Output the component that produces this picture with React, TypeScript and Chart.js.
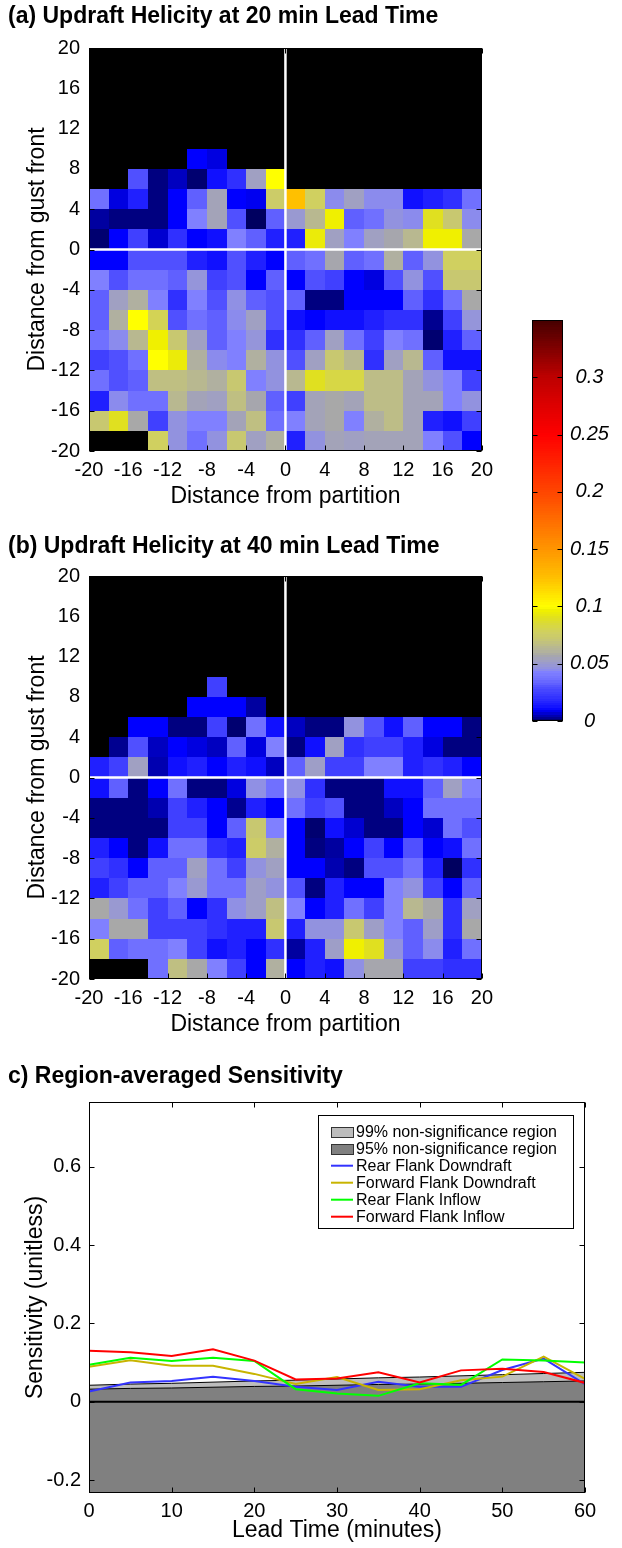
import React, { useEffect, useRef } from 'react';
import { Chart, registerables } from 'chart.js';

Chart.register(...registerables);

const FONT = "'Liberation Sans', Arial, Helvetica, sans-serif";
const N = null;

// ---------- heatmap data ----------
const xCenters = [-19, -17, -15, -13, -11, -9, -7, -5, -3, -1, 1, 3, 5, 7, 9, 11, 13, 15, 17, 19];
const yCenters = [19, 17, 15, 13, 11, 9, 7, 5, 3, 1, -1, -3, -5, -7, -9, -11, -13, -15, -17, -19];
const distanceTicks = [-20, -16, -12, -8, -4, 0, 4, 8, 12, 16, 20];

const uhLead20: (number | null)[][] = [
  [N, N, N, N, N, N, N, N, N, N, N, N, N, N, N, N, N, N, N, N],
  [N, N, N, N, N, N, N, N, N, N, N, N, N, N, N, N, N, N, N, N],
  [N, N, N, N, N, N, N, N, N, N, N, N, N, N, N, N, N, N, N, N],
  [N, N, N, N, N, N, N, N, N, N, N, N, N, N, N, N, N, N, N, N],
  [N, N, N, N, N, N, N, N, N, N, N, N, N, N, N, N, N, N, N, N],
  [N, N, N, N, N, 0.010, 0.008, N, N, N, N, N, N, N, N, N, N, N, N, N],
  [N, N, 0.030, 0.002, 0.006, 0.001, 0.012, 0.020, 0.053, 0.100, N, N, N, N, N, N, N, N, N, N],
  [0.037, 0.008, 0.016, 0.002, 0.010, 0.033, 0.055, 0.010, 0.009, 0.075, 0.125, 0.078, 0.045, 0.053, 0.045, 0.045, 0.012, 0.016, 0.020, 0.037],
  [0.004, 0.002, 0.002, 0.002, 0.010, 0.043, 0.055, 0.030, 0.000, 0.033, 0.050, 0.065, 0.097, 0.033, 0.037, 0.047, 0.045, 0.090, 0.072, 0.045],
  [0.001, 0.010, 0.025, 0.007, 0.020, 0.010, 0.012, 0.043, 0.033, 0.016, 0.016, 0.095, 0.053, 0.043, 0.053, 0.057, 0.065, 0.097, 0.097, 0.058],
  [0.010, 0.010, 0.030, 0.030, 0.030, 0.016, 0.012, 0.030, 0.016, 0.010, 0.033, 0.037, 0.057, 0.033, 0.037, 0.060, 0.033, 0.047, 0.078, 0.078],
  [0.043, 0.030, 0.037, 0.037, 0.033, 0.048, 0.025, 0.030, 0.010, 0.033, 0.010, 0.030, 0.025, 0.010, 0.008, 0.030, 0.047, 0.030, 0.072, 0.072],
  [0.033, 0.053, 0.060, 0.043, 0.020, 0.043, 0.030, 0.046, 0.033, 0.030, 0.033, 0.002, 0.002, 0.010, 0.010, 0.010, 0.033, 0.020, 0.037, 0.058],
  [0.033, 0.060, 0.100, 0.080, 0.030, 0.037, 0.033, 0.045, 0.053, 0.030, 0.012, 0.010, 0.012, 0.012, 0.016, 0.020, 0.020, 0.003, 0.025, 0.048],
  [0.037, 0.045, 0.065, 0.097, 0.072, 0.053, 0.033, 0.043, 0.048, 0.020, 0.020, 0.033, 0.053, 0.037, 0.025, 0.043, 0.037, 0.001, 0.016, 0.033],
  [0.025, 0.030, 0.037, 0.100, 0.095, 0.060, 0.045, 0.043, 0.060, 0.047, 0.030, 0.053, 0.072, 0.065, 0.020, 0.053, 0.065, 0.033, 0.012, 0.012],
  [0.037, 0.030, 0.033, 0.068, 0.068, 0.065, 0.060, 0.072, 0.043, 0.047, 0.065, 0.090, 0.083, 0.083, 0.067, 0.067, 0.055, 0.047, 0.043, 0.025],
  [0.016, 0.045, 0.037, 0.037, 0.065, 0.055, 0.053, 0.068, 0.057, 0.033, 0.025, 0.055, 0.058, 0.055, 0.067, 0.067, 0.055, 0.055, 0.043, 0.047],
  [0.072, 0.090, 0.058, 0.025, 0.047, 0.043, 0.043, 0.055, 0.068, 0.037, 0.043, 0.055, 0.058, 0.043, 0.060, 0.067, 0.055, 0.016, 0.012, 0.025],
  [N, N, N, 0.078, 0.047, 0.037, 0.047, 0.072, 0.053, 0.060, 0.016, 0.047, 0.055, 0.053, 0.055, 0.055, 0.055, 0.043, 0.030, 0.010],
];

const uhLead40: (number | null)[][] = [
  [N, N, N, N, N, N, N, N, N, N, N, N, N, N, N, N, N, N, N, N],
  [N, N, N, N, N, N, N, N, N, N, N, N, N, N, N, N, N, N, N, N],
  [N, N, N, N, N, N, N, N, N, N, N, N, N, N, N, N, N, N, N, N],
  [N, N, N, N, N, N, N, N, N, N, N, N, N, N, N, N, N, N, N, N],
  [N, N, N, N, N, N, N, N, N, N, N, N, N, N, N, N, N, N, N, N],
  [N, N, N, N, N, N, 0.025, N, N, N, N, N, N, N, N, N, N, N, N, N],
  [N, N, N, N, N, 0.010, 0.010, 0.010, 0.004, N, N, N, N, N, N, N, N, N, N, N],
  [N, N, 0.010, 0.010, 0.002, 0.002, 0.025, 0.001, 0.037, 0.012, 0.006, 0.002, 0.002, 0.047, 0.030, 0.012, 0.033, 0.010, 0.010, 0.002],
  [N, 0.003, 0.030, 0.006, 0.010, 0.008, 0.006, 0.033, 0.008, 0.043, 0.002, 0.012, 0.053, 0.020, 0.025, 0.025, 0.016, 0.008, 0.002, 0.002],
  [0.016, 0.025, 0.053, 0.005, 0.012, 0.016, 0.010, 0.016, 0.012, 0.006, 0.033, 0.052, 0.025, 0.025, 0.043, 0.043, 0.016, 0.020, 0.016, 0.010],
  [0.012, 0.033, 0.002, 0.010, 0.037, 0.002, 0.002, 0.008, 0.046, 0.037, 0.046, 0.020, 0.002, 0.002, 0.002, 0.012, 0.012, 0.033, 0.053, 0.043],
  [0.002, 0.002, 0.002, 0.005, 0.025, 0.016, 0.010, 0.003, 0.016, 0.010, 0.037, 0.025, 0.030, 0.002, 0.002, 0.006, 0.010, 0.037, 0.037, 0.037],
  [0.002, 0.002, 0.002, 0.002, 0.025, 0.025, 0.010, 0.033, 0.072, 0.043, 0.010, 0.001, 0.012, 0.007, 0.002, 0.002, 0.010, 0.007, 0.037, 0.030],
  [0.016, 0.010, 0.002, 0.012, 0.037, 0.037, 0.020, 0.016, 0.075, 0.060, 0.010, 0.002, 0.004, 0.010, 0.025, 0.010, 0.030, 0.010, 0.012, 0.037],
  [0.025, 0.020, 0.010, 0.033, 0.033, 0.053, 0.037, 0.025, 0.047, 0.053, 0.010, 0.010, 0.005, 0.002, 0.030, 0.030, 0.037, 0.016, 0.000, 0.020],
  [0.016, 0.025, 0.033, 0.033, 0.043, 0.050, 0.037, 0.037, 0.052, 0.047, 0.030, 0.002, 0.016, 0.010, 0.010, 0.043, 0.047, 0.025, 0.010, 0.033],
  [0.058, 0.050, 0.037, 0.025, 0.033, 0.010, 0.020, 0.046, 0.052, 0.068, 0.043, 0.010, 0.016, 0.037, 0.025, 0.043, 0.065, 0.058, 0.020, 0.053],
  [0.043, 0.058, 0.058, 0.025, 0.025, 0.025, 0.020, 0.016, 0.016, 0.072, 0.016, 0.047, 0.047, 0.072, 0.052, 0.043, 0.033, 0.052, 0.020, 0.058],
  [0.078, 0.033, 0.037, 0.037, 0.043, 0.025, 0.012, 0.016, 0.010, 0.020, 0.004, 0.016, 0.052, 0.097, 0.090, 0.047, 0.033, 0.045, 0.016, 0.037],
  [N, N, N, 0.037, 0.068, 0.058, 0.043, 0.025, 0.010, 0.060, 0.010, 0.016, 0.012, 0.046, 0.057, 0.057, 0.025, 0.025, 0.020, 0.020],
];

const colorbarTicks = [0, 0.05, 0.1, 0.15, 0.2, 0.25, 0.3];

// ---------- panel (c) data ----------
const leadTimes = [0, 5, 10, 15, 20, 25, 30, 35, 40, 45, 50, 55, 60];
const leadTicks = [0, 10, 20, 30, 40, 50, 60];
const sensTicks = [-0.2, 0, 0.2, 0.4, 0.6];
const sig99 = [0.042, 0.045, 0.047, 0.050, 0.053, 0.055, 0.058, 0.061, 0.063, 0.066, 0.069, 0.072, 0.075];
const sig95 = [0.032, 0.034, 0.035, 0.037, 0.039, 0.040, 0.042, 0.044, 0.045, 0.047, 0.049, 0.051, 0.053];
const rearFlankDowndraft = [0.026, 0.049, 0.053, 0.064, 0.053, 0.038, 0.030, 0.051, 0.038, 0.038, 0.081, 0.110, 0.045];
const forwardFlankDowndraft = [0.089, 0.106, 0.092, 0.092, 0.071, 0.045, 0.063, 0.030, 0.032, 0.055, 0.064, 0.115, 0.058];
const rearFlankInflow = [0.094, 0.112, 0.104, 0.112, 0.104, 0.032, 0.021, 0.015, 0.047, 0.043, 0.108, 0.105, 0.100];
const forwardFlankInflow = [0.130, 0.126, 0.117, 0.134, 0.105, 0.057, 0.059, 0.075, 0.049, 0.080, 0.084, 0.076, 0.048];

// ---------- colormap (style) ----------
const CMAP: [number, number, number, number][] = [
  [0, 0, 0, 96], [0.002, 0, 0, 128], [0.008, 0, 0, 224], [0.01, 0, 0, 255],
  [0.012, 16, 16, 255], [0.016, 32, 32, 255], [0.02, 48, 48, 255], [0.025, 64, 64, 255],
  [0.03, 80, 80, 255], [0.033, 96, 96, 255], [0.037, 112, 112, 255], [0.043, 128, 128, 255],
  [0.046, 144, 144, 228], [0.053, 160, 160, 194], [0.058, 168, 168, 168], [0.06, 176, 176, 160],
  [0.065, 184, 184, 144], [0.072, 200, 200, 112], [0.078, 208, 208, 96], [0.09, 224, 224, 32],
  [0.097, 240, 240, 0], [0.1, 255, 255, 0], [0.125, 255, 192, 0], [0.15, 255, 150, 0],
  [0.2, 255, 70, 0], [0.25, 255, 0, 0], [0.3, 190, 0, 0], [0.35, 70, 0, 0],
];

function colorFor(v: number): string {
  if (v <= CMAP[0][0]) return `rgb(${CMAP[0][1]},${CMAP[0][2]},${CMAP[0][3]})`;
  for (let i = 0; i < CMAP.length - 1; i++) {
    const a = CMAP[i], b = CMAP[i + 1];
    if (v >= a[0] && v <= b[0]) {
      const t = (v - a[0]) / (b[0] - a[0]);
      const r = Math.round(a[1] + t * (b[1] - a[1]));
      const g = Math.round(a[2] + t * (b[2] - a[2]));
      const bl = Math.round(a[3] + t * (b[3] - a[3]));
      return `rgb(${r},${g},${bl})`;
    }
  }
  const l = CMAP[CMAP.length - 1];
  return `rgb(${l[1]},${l[2]},${l[3]})`;
}

// ---------- plugins ----------
const heatmapPlugin = {
  id: 'heatmapCells',
  beforeDatasetsDraw(chart: any) {
    const { ctx, chartArea: a, scales } = chart;
    const xs = scales.x, ys = scales.y;
    ctx.save();
    ctx.fillStyle = '#000';
    ctx.fillRect(a.left, a.top, a.right - a.left, a.bottom - a.top);
    const cells = chart.data.datasets[0].data;
    for (const cell of cells) {
      const x0 = Math.round(xs.getPixelForValue(cell.x - 1));
      const x1 = Math.round(xs.getPixelForValue(cell.x + 1));
      const y0 = Math.round(ys.getPixelForValue(cell.y + 1));
      const y1 = Math.round(ys.getPixelForValue(cell.y - 1));
      ctx.fillStyle = colorFor(cell.v);
      ctx.fillRect(x0, y0, x1 - x0, y1 - y0);
    }
    const zx = xs.getPixelForValue(0), zy = ys.getPixelForValue(0);
    ctx.strokeStyle = '#fff';
    ctx.lineWidth = 2.5;
    ctx.beginPath();
    ctx.moveTo(zx, a.top); ctx.lineTo(zx, a.bottom);
    ctx.moveTo(a.left, zy); ctx.lineTo(a.right, zy);
    ctx.stroke();
    ctx.restore();
  },
};

const framePlugin = {
  id: 'axesFrame',
  afterDatasetsDraw(chart: any) {
    const { ctx, chartArea: a, scales } = chart;
    ctx.save();
    ctx.strokeStyle = '#000';
    ctx.lineWidth = 1;
    const L = Math.round(a.left) + 0.5, R = Math.round(a.right) - 0.5;
    const T = Math.round(a.top) + 0.5, Bm = Math.round(a.bottom) - 0.5;
    ctx.strokeRect(L, T, R - L, Bm - T);
    const len = 5;
    ctx.beginPath();
    const xs = scales.x, ys = scales.y;
    if (xs && xs.options.display !== false) {
      for (const t of xs.ticks) {
        const p = Math.round(xs.getPixelForValue(t.value)) + 0.5;
        ctx.moveTo(p, Bm); ctx.lineTo(p, Bm - len);
        ctx.moveTo(p, T); ctx.lineTo(p, T + len);
      }
    }
    if (ys) {
      for (const t of ys.ticks) {
        const p = Math.round(ys.getPixelForValue(t.value)) + 0.5;
        ctx.moveTo(L, p); ctx.lineTo(L + len, p);
        ctx.moveTo(R, p); ctx.lineTo(R - len, p);
      }
    }
    ctx.stroke();
    ctx.restore();
  },
};

const colorbarPlugin = {
  id: 'colorbarFill',
  beforeDatasetsDraw(chart: any) {
    const { ctx, chartArea: a, scales } = chart;
    const ys = scales.y;
    const step = 0.002;
    ctx.save();
    for (let v = ys.min; v < ys.max - 1e-9; v += step) {
      const p0 = ys.getPixelForValue(v);
      const p1 = ys.getPixelForValue(Math.min(v + step, ys.max));
      ctx.fillStyle = colorFor(v + step / 2);
      ctx.fillRect(a.left, Math.floor(p1), a.right - a.left, Math.ceil(p0) - Math.floor(p1));
    }
    ctx.restore();
  },
};

const legendBoxPlugin = {
  id: 'legendBox',
  afterDraw(chart: any, _args: any, opts: any) {
    const { ctx } = chart;
    const items = chart.data.datasets.filter((d: any) => d.label);
    const { left, top, width, height, rowStart, rowGap } = opts;
    ctx.save();
    ctx.fillStyle = '#fff';
    ctx.fillRect(left, top, width, height);
    ctx.strokeStyle = '#000';
    ctx.lineWidth = 1;
    ctx.strokeRect(left + 0.5, top + 0.5, width, height);
    ctx.font = `16px ${FONT}`;
    ctx.textBaseline = 'middle';
    ctx.textAlign = 'left';
    items.forEach((d: any, i: number) => {
      const cy = top + rowStart + i * rowGap;
      const sx = left + 13;
      if (d.fill) {
        ctx.fillStyle = d.backgroundColor;
        ctx.fillRect(sx, Math.round(cy - 5), 22, 10);
        ctx.strokeStyle = '#333';
        ctx.lineWidth = 1;
        ctx.strokeRect(sx + 0.5, Math.round(cy - 5) + 0.5, 22, 10);
      } else {
        ctx.strokeStyle = d.borderColor;
        ctx.lineWidth = 2;
        ctx.beginPath();
        ctx.moveTo(sx, cy); ctx.lineTo(sx + 22, cy);
        ctx.stroke();
      }
      ctx.fillStyle = '#000';
      ctx.fillText(d.label, sx + 25, cy + 0.5);
    });
    ctx.restore();
  },
};

// ---------- configs ----------
const tickFont = { family: FONT, size: 20 };
const titleFont = { family: FONT, size: 23 };
const headFont = { family: FONT, size: 23, weight: 'bold' };

function heatmapConfig(grid: (number | null)[][], title: string, titleTop: number) {
  const cells: any[] = [];
  grid.forEach((row, r) =>
    row.forEach((v, c) => {
      if (v !== null) cells.push({ x: xCenters[c], y: yCenters[r], v });
    })
  );
  return {
    type: 'scatter',
    data: { datasets: [{ label: title, data: cells, pointRadius: 0, pointHoverRadius: 0 }] },
    options: {
      responsive: false,
      animation: false,
      events: [],
      layout: { padding: { left: 8, right: 10, top: 0, bottom: 0 } },
      plugins: {
        legend: { display: false },
        tooltip: { enabled: false },
        title: {
          display: true,
          text: title,
          align: 'start',
          color: '#000',
          font: headFont,
          padding: { top: titleTop, bottom: 20.4 - titleTop },
        },
      },
      scales: {
        x: {
          type: 'linear',
          min: -20,
          max: 20,
          afterBuildTicks: (s: any) => { s.ticks = distanceTicks.map((v) => ({ value: v })); },
          afterFit: (s: any) => { s.height = 79; },
          grid: { display: false, drawTicks: false },
          border: { display: false },
          ticks: { font: tickFont, color: '#000', padding: 7, maxRotation: 0, autoSkip: false },
          title: { display: true, text: 'Distance from partition', color: '#000', font: titleFont, padding: { top: 0, bottom: 19.2 } },
        },
        y: {
          type: 'linear',
          min: -20,
          max: 20,
          afterBuildTicks: (s: any) => { s.ticks = distanceTicks.map((v) => ({ value: v })); },
          afterFit: (s: any) => { s.width = 81; },
          grid: { display: false, drawTicks: false },
          border: { display: false },
          ticks: { font: tickFont, color: '#000', padding: 9, autoSkip: false },
          title: { display: true, text: 'Distance from gust front', color: '#000', font: titleFont, padding: { top: 16.2, bottom: 0 } },
        },
      },
    },
    plugins: [heatmapPlugin, framePlugin],
  };
}

function colorbarConfig() {
  return {
    type: 'scatter',
    data: { datasets: [] },
    options: {
      responsive: false,
      animation: false,
      events: [],
      layout: { padding: { left: 32, top: 20, bottom: 17.3, right: 0 } },
      plugins: { legend: { display: false }, tooltip: { enabled: false } },
      scales: {
        x: { display: false, min: 0, max: 1 },
        y: {
          position: 'right',
          min: 0,
          max: 0.35,
          afterBuildTicks: (s: any) => { s.ticks = colorbarTicks.map((v) => ({ value: v })); },
          afterFit: (s: any) => { s.width = 59; },
          grid: { display: false, drawTicks: false },
          border: { display: false },
          ticks: {
            font: { family: FONT, size: 20, style: 'italic' },
            color: '#000',
            padding: 7,
            crossAlign: 'center',
            autoSkip: false,
            callback: (v: number) => String(Math.round(v * 100) / 100),
          },
        },
      },
    },
    plugins: [colorbarPlugin, framePlugin],
  };
}

function sensitivityConfig() {
  const pts = (arr: number[]) => arr.map((v, i) => ({ x: leadTimes[i], y: v }));
  const line = (label: string, arr: number[], color: string, order: number) => ({
    label, data: pts(arr), borderColor: color, backgroundColor: color, borderWidth: 2,
    pointRadius: 0, fill: false, tension: 0, order,
  });
  return {
    type: 'line',
    data: {
      datasets: [
        { label: '99% non-significance region', data: pts(sig99), fill: 'start', backgroundColor: '#bdbdbd', borderColor: '#000', borderWidth: 1, pointRadius: 0, order: 10 },
        { label: '95% non-significance region', data: pts(sig95), fill: 'start', backgroundColor: '#808080', borderColor: '#000', borderWidth: 1, pointRadius: 0, order: 9 },
        { label: '', data: [{ x: leadTimes[0], y: 0 }, { x: leadTimes[leadTimes.length - 1], y: 0 }], borderColor: '#000', borderWidth: 2, pointRadius: 0, fill: false, order: 8 },
        line('Rear Flank Downdraft', rearFlankDowndraft, '#3333ff', 4),
        line('Forward Flank Downdraft', forwardFlankDowndraft, '#c8b400', 3),
        line('Rear Flank Inflow', rearFlankInflow, '#00ff00', 2),
        line('Forward Flank Inflow', forwardFlankInflow, '#ff0000', 1),
      ],
    },
    options: {
      responsive: false,
      animation: false,
      events: [],
      layout: { padding: { left: 8, right: 37, top: 0, bottom: 0 } },
      plugins: {
        legend: { display: false },
        tooltip: { enabled: false },
        title: {
          display: true,
          text: 'c) Region-averaged Sensitivity',
          align: 'start',
          color: '#000',
          font: headFont,
          padding: { top: 23.2, bottom: 11.2 },
        },
        legendBox: { left: 318, top: 75, width: 255, height: 113, rowStart: 16.7, rowGap: 17 },
      },
      scales: {
        x: {
          type: 'linear',
          min: 0,
          max: 60,
          afterBuildTicks: (s: any) => { s.ticks = leadTicks.map((v) => ({ value: v })); },
          afterFit: (s: any) => { s.height = 55; },
          grid: { display: false, drawTicks: false },
          border: { display: false },
          ticks: { font: tickFont, color: '#000', padding: 6, maxRotation: 0, autoSkip: false },
          title: { display: true, text: 'Lead Time (minutes)', color: '#000', font: titleFont, padding: { top: 0, bottom: 3.6 } },
        },
        y: {
          type: 'linear',
          min: -0.233,
          max: 0.765,
          afterBuildTicks: (s: any) => { s.ticks = sensTicks.map((v) => ({ value: v })); },
          afterFit: (s: any) => { s.width = 81; },
          grid: { display: false, drawTicks: false },
          border: { display: false },
          ticks: { font: tickFont, color: '#000', padding: 8, autoSkip: false, callback: (v: number) => String(Math.round(v * 10) / 10) },
          title: { display: true, text: 'Sensitivity (unitless)', color: '#000', font: titleFont, padding: { top: 14.2, bottom: 0 } },
        },
      },
    },
    plugins: [framePlugin, legendBoxPlugin],
  };
}

function ChartCanvas(props: { left: number; top: number; width: number; height: number; make: () => any }) {
  const ref = useRef<HTMLCanvasElement | null>(null);
  useEffect(() => {
    if (!ref.current) return;
    const chart = new Chart(ref.current, props.make());
    return () => chart.destroy();
  }, []);
  return (
    <div style={{ position: 'absolute', left: props.left, top: props.top, width: props.width, height: props.height }}>
      <canvas ref={ref} width={props.width} height={props.height} style={{ display: 'block', width: props.width, height: props.height }} />
    </div>
  );
}

export default function App() {
  return (
    <div style={{ position: 'absolute', left: 0, top: 0, width: 622, height: 1548, background: '#fff', overflow: 'hidden' }}>
      <ChartCanvas left={0} top={0} width={500} height={530} make={() => heatmapConfig(uhLead20, '(a) Updraft Helicity at 20 min Lead Time', 3.2)} />
      <ChartCanvas left={0} top={528} width={500} height={530} make={() => heatmapConfig(uhLead40, '(b) Updraft Helicity at 40 min Lead Time', 5.2)} />
      <ChartCanvas left={0} top={1040} width={622} height={508} make={sensitivityConfig} />
      <ChartCanvas left={500} top={300} width={122} height={440} make={colorbarConfig} />
    </div>
  );
}
